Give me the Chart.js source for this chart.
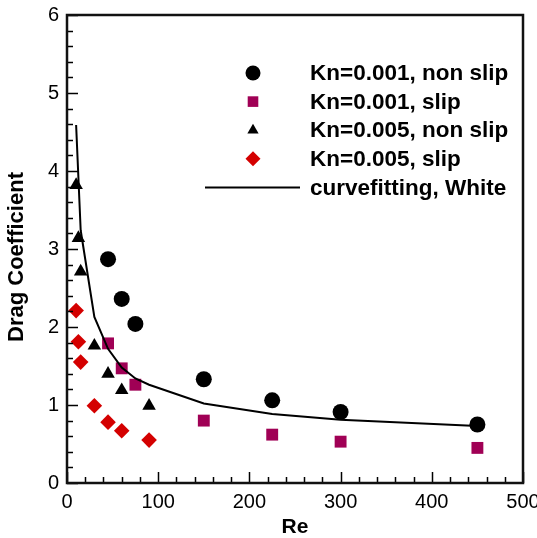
<!DOCTYPE html>
<html>
<head>
<meta charset="utf-8">
<script src="https://cdn.jsdelivr.net/npm/chart.js@4/dist/chart.umd.min.js"></script>
<style>
  html, body { margin: 0; padding: 0; background: #fff; }
  #c { display: block; }
</style>
</head>
<body>
<canvas id="c" width="537" height="538"></canvas>
<script>
// Drag coefficient versus Reynolds number
const reKn001 = [45, 60, 75, 150, 225, 300, 450];
const cdKn001NonSlip = [2.87, 2.36, 2.04, 1.33, 1.06, 0.91, 0.75];
const cdKn001Slip = [1.79, 1.47, 1.26, 0.80, 0.62, 0.53, 0.45];

const reKn005 = [10, 12.5, 15, 30, 45, 60, 90];
const cdKn005NonSlip = [3.82, 3.14, 2.71, 1.76, 1.40, 1.19, 0.99];
const cdKn005Slip = [2.21, 1.81, 1.55, 0.99, 0.78, 0.67, 0.55];

const reWhite = [10, 15, 30, 45, 60, 75, 90, 150, 225, 300, 450];
const cdWhite = [4.59, 3.24, 2.13, 1.72, 1.48, 1.34, 1.26, 1.02, 0.885, 0.81, 0.73];

const xTickValues = [0, 100, 200, 300, 400, 500];
const yTickValues = [0, 1, 2, 3, 4, 5, 6];

const legendLabels = [
  'Kn=0.001, non slip',
  'Kn=0.001, slip',
  'Kn=0.005, non slip',
  'Kn=0.005, slip',
  'curvefitting, White'
];
const xTitle = 'Re';
const yTitle = 'Drag Coefficient';

const toPoints = (xs, ys) => xs.map((x, i) => ({ x: x, y: ys[i] }));

const MAROON = 'rgb(160,0,85)';
const RED = 'rgb(212,0,0)';
const FONT = '"Liberation Sans", Arial, Helvetica, sans-serif';

// Inward major/minor ticks and the closed frame around the plot
const frameTicks = {
  id: 'frameTicks',
  afterDatasetsDraw(chart) {
    const { ctx, chartArea: a, scales: { x, y } } = chart;
    ctx.save();
    ctx.strokeStyle = '#000';
    ctx.lineWidth = 1.5;
    ctx.beginPath();
    for (let v = 0; v <= 500; v += 20) {
      const px = Math.round(x.getPixelForValue(v)) + 0.5;
      const len = (v % 100 === 0) ? 11 : 6;
      ctx.moveTo(px, a.bottom);
      ctx.lineTo(px, a.bottom - len);
    }
    for (let k = 0; k <= 30; k++) {
      const py = Math.round(y.getPixelForValue(k * 0.2)) + 0.5;
      const len = (k % 5 === 0) ? 11 : 6;
      ctx.moveTo(a.left, py);
      ctx.lineTo(a.left + len, py);
    }
    ctx.stroke();
    ctx.lineWidth = 2.5;
    ctx.strokeStyle = '#111';
    ctx.strokeRect(a.left, a.top, a.right - a.left, a.bottom - a.top);
    ctx.restore();
  }
};

// Rotated y-axis title, placed a little below the axis midpoint
const yAxisTitle = {
  id: 'yAxisTitle',
  afterDraw(chart) {
    const { ctx } = chart;
    ctx.save();
    ctx.translate(17, 257);
    ctx.rotate(-Math.PI / 2);
    ctx.font = 'bold 22px ' + FONT;
    ctx.textAlign = 'center';
    ctx.textBaseline = 'middle';
    ctx.fillStyle = '#000';
    ctx.fillText(yTitle, 0, 0);
    ctx.restore();
  }
};

// Legend drawn inside the plot area, without a box
const insideLegend = {
  id: 'insideLegend',
  afterDraw(chart) {
    const { ctx } = chart;
    const symX = 253, textX = 310, row0 = 73, step = 28.6;
    ctx.save();
    ctx.font = 'bold 22.5px ' + FONT;
    ctx.textBaseline = 'middle';
    chart.data.datasets.forEach((ds, i) => {
      const yy = row0 + i * step;
      if (ds.showLine) {
        ctx.strokeStyle = '#000';
        ctx.lineWidth = 2;
        ctx.beginPath();
        ctx.moveTo(205, yy);
        ctx.lineTo(300, yy);
        ctx.stroke();
      } else {
        ctx.fillStyle = ds.backgroundColor;
        ctx.strokeStyle = ds.backgroundColor;
        Chart.helpers.drawPoint(ctx, {
          pointStyle: ds.pointStyle, radius: ds.legendRadius, rotation: 0, borderWidth: 0
        }, symX, yy);
      }
      ctx.fillStyle = '#000';
      ctx.fillText(legendLabels[i], textX, yy + 1);
    });
    ctx.restore();
  }
};

new Chart(document.getElementById('c'), {
  type: 'scatter',
  data: {
    datasets: [
      {
        data: toPoints(reKn001, cdKn001NonSlip),
        pointStyle: 'circle', pointRadius: 8, legendRadius: 7.5,
        backgroundColor: '#000', borderColor: '#000', borderWidth: 0, order: 2
      },
      {
        data: toPoints(reKn001, cdKn001Slip),
        pointStyle: 'rect', pointRadius: 8.4, legendRadius: 7.5,
        backgroundColor: MAROON, borderColor: MAROON, borderWidth: 0, order: 3
      },
      {
        data: toPoints(reKn005, cdKn005NonSlip),
        pointStyle: 'triangle', pointRadius: 7.8, legendRadius: 6.5,
        backgroundColor: '#000', borderColor: '#000', borderWidth: 0, order: 2
      },
      {
        data: toPoints(reKn005, cdKn005Slip),
        pointStyle: 'rectRot', pointRadius: 7.8, legendRadius: 7.5,
        backgroundColor: RED, borderColor: RED, borderWidth: 0, order: 2
      },
      {
        type: 'line',
        data: toPoints(reWhite, cdWhite),
        showLine: true, pointRadius: 0, borderColor: '#000', borderWidth: 2,
        backgroundColor: '#000', tension: 0, fill: false, order: 1
      }
    ]
  },
  options: {
    responsive: false,
    animation: false,
    events: [],
    layout: { padding: { top: 15, right: 14, left: 0, bottom: 0 } },
    plugins: { legend: { display: false }, tooltip: { enabled: false } },
    scales: {
      x: {
        type: 'linear', min: 0, max: 500,
        grid: { display: false, drawTicks: false },
        border: { display: false },
        afterBuildTicks(s) { s.ticks = xTickValues.map(v => ({ value: v })); },
        afterFit(s) { s.height = 55; s.paddingLeft = 0; s.paddingRight = 0; },
        ticks: { color: '#000', padding: 7, maxRotation: 0, font: { family: FONT, size: 20 } },
        title: {
          display: true, text: xTitle, color: '#000',
          padding: { top: 0, bottom: -2 },
          font: { family: FONT, size: 21, weight: 'bold' }
        }
      },
      y: {
        type: 'linear', min: 0, max: 6,
        grid: { display: false, drawTicks: false },
        border: { display: false },
        afterBuildTicks(s) { s.ticks = yTickValues.map(v => ({ value: v })); },
        afterFit(s) { s.width = 67; s.paddingTop = 0; s.paddingBottom = 0; },
        ticks: { color: '#000', padding: 8, font: { family: FONT, size: 20 } },
        title: { display: false }
      }
    }
  },
  plugins: [frameTicks, yAxisTitle, insideLegend]
});
</script>
</body>
</html>
